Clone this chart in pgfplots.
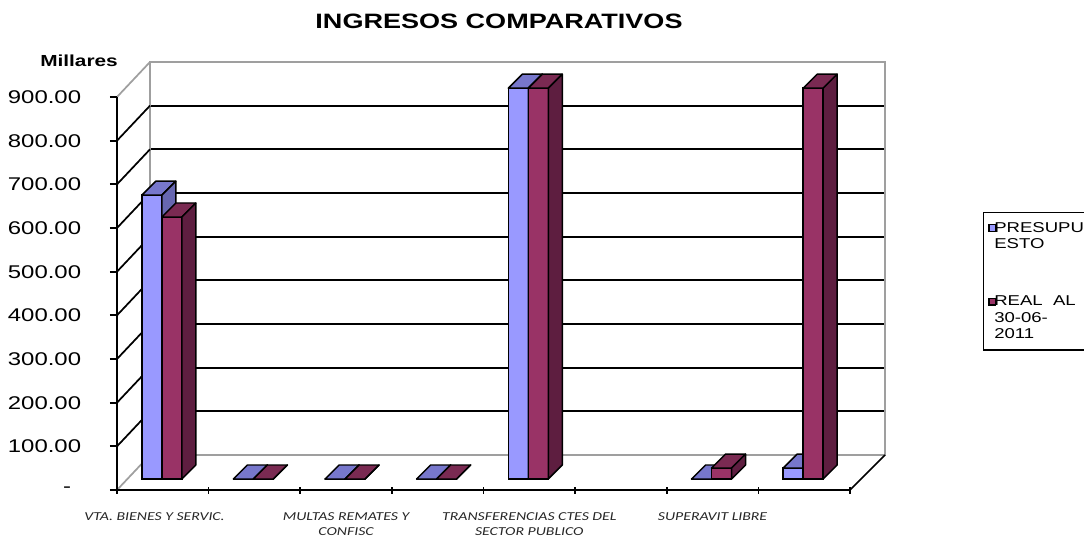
\documentclass[border=0pt]{standalone}
\usepackage{fontspec}
\setmainfont{Liberation Sans}
\newfontfamily\carlito{Carlito}
\usepackage{graphicx}
\usepackage{pgfplots}
\pgfplotsset{compat=1.18}
\usepackage{pgfplotstable}
\definecolor{bfront}{HTML}{9999FF}
\definecolor{btop}{HTML}{7777CC}
\definecolor{bside}{HTML}{6767B0}
\definecolor{rfront}{HTML}{993366}
\definecolor{rtop}{HTML}{7A2A52}
\definecolor{rside}{HTML}{5E1E40}
\newcommand{\wide}[1]{\scalebox{1.3}[1]{#1}}
\newcommand{\legtxt}[1]{\hspace*{-3.3pt}\wide{#1}}
\pgfdeclareplotmark{empty}{}
% #1 front, #2 top, #3 side colour, #4 bar shift
\newcommand{\threeD}[4]{%
  \pgfmathsetmacro{\hh}{\pgfplotspointmetatransformed/1000*294.75}%
  \pgfsetlinewidth{1.1pt}\pgfsetroundjoin\pgfsetstrokecolor{black}%
  \pgfsetfillcolor{#1}%
  \pgfpathmoveto{\pgfpoint{#4-7.5pt}{0pt}}%
  \pgfpathlineto{\pgfpoint{#4+7.5pt}{0pt}}%
  \pgfpathlineto{\pgfpoint{#4+7.5pt}{-\hh pt}}%
  \pgfpathlineto{\pgfpoint{#4-7.5pt}{-\hh pt}}%
  \pgfpathclose\pgfusepath{fill,stroke}%
  \pgfsetfillcolor{#2}%
  \pgfpathmoveto{\pgfpoint{#4-7.5pt}{0pt}}%
  \pgfpathlineto{\pgfpoint{#4+7.5pt}{0pt}}%
  \pgfpathlineto{\pgfpoint{#4+18pt}{10.5pt}}%
  \pgfpathlineto{\pgfpoint{#4+3pt}{10.5pt}}%
  \pgfpathclose\pgfusepath{fill,stroke}%
  \pgfsetfillcolor{#3}%
  \pgfpathmoveto{\pgfpoint{#4+7.5pt}{0pt}}%
  \pgfpathlineto{\pgfpoint{#4+18pt}{10.5pt}}%
  \pgfpathlineto{\pgfpoint{#4+18pt}{10.5pt-\hh pt}}%
  \pgfpathlineto{\pgfpoint{#4+7.5pt}{-\hh pt}}%
  \pgfpathclose\pgfusepath{fill,stroke}%
}
\pgfplotstableread{
x pres real
1 650 600
2 0 0
3 0 0
4 0 0
5 895 895
7 0 25
8 25 895
}\ingresos
\begin{document}
\begin{tikzpicture}
% back wall
\begin{axis}[at={(112.5pt,60.75pt)}, anchor=south west, scale only axis,
  width=551.25pt, height=294.75pt,
  xmin=0, xmax=1, ymin=0, ymax=900,
  xtick=\empty, ytick={100,200,...,800}, yticklabels={},
  major tick length=0pt,
  ymajorgrids, grid style={black, line width=1.4pt},
  axis line style={gray!75, line width=1.3pt}]
\addplot[draw=none] coordinates {(0,0) (1,0)};
\end{axis}
% left wall and floor edges
\begin{scope}[x=0.75pt,y=0.75pt]
\foreach \k in {1,...,8}
  \draw[black, line width=1.3pt] (117,{46+43.667*\k}) -- ++(33,35);
\draw[gray!75, line width=1.3pt] (117,46) -- ++(33,35);
\draw[gray!75, line width=1.3pt] (117,439) -- ++(33,35);
\draw[black, line width=1.3pt] (850,46) -- ++(35,35);
\end{scope}
% front axis with labels
\begin{axis}[at={(87.75pt,34.5pt)}, anchor=south west, scale only axis,
  width=549.75pt, height=294.75pt,
  xmin=0.5, xmax=8.5, ymin=0, ymax=900,
  axis x line*=bottom, axis y line*=left,
  axis line style={line width=1.3pt, black, -},
  xtick={0.5,1.5,...,8.5}, xticklabels={}, xtick align=center,
  ytick={0,100,...,900}, ytick align=outside,
  major tick length=5.25pt,
  major tick style={line width=1.3pt, black},
  yticklabels={\wide{-}\hspace*{7.5pt},\wide{100.00},\wide{200.00},\wide{300.00},\wide{400.00},\wide{500.00},\wide{600.00},\wide{700.00},\wide{800.00},\wide{900.00}},
  yticklabel style={font=\fontsize{13.8}{16}\selectfont, anchor=east, inner sep=0pt, xshift=-21.5pt},
  extra x ticks={0.91,3,5,7},
  extra x tick labels={\wide{VTA. BIENES Y SERVIC.},{\wide{MULTAS REMATES Y}\\\wide{CONFISC}},{\wide{TRANSFERENCIAS CTES DEL}\\\wide{SECTOR PUBLICO}},\wide{SUPERAVIT LIBRE}},
  extra x tick style={major tick length=0pt, xticklabel style={align=center, font=\carlito\itshape\fontsize{9.1}{11.25}\selectfont, text=black!85, anchor=north, inner sep=0pt, yshift=-16.5pt}}]
\addplot[draw=none] coordinates {(1,0) (2,0)};
\end{axis}
% data axis with 3D bars
\begin{axis}[at={(87pt,42.75pt)}, anchor=south west, scale only axis,
  width=549.75pt, height=294.75pt,
  xmin=0.5, xmax=8.5, ymin=0, ymax=900, hide axis, clip=false,
  legend style={at={(axis description cs:1.1828,0.6794)}, anchor=north west,
    draw=black, line width=1.1pt, font=\fontsize{10.7}{12.4}\selectfont,
    cells={align=left, inner xsep=0pt}, row sep=30pt, inner xsep=3.5pt, inner ysep=5pt},
  legend cell align=left]
\addplot[ybar, bar width=15pt, bar shift=-7.5pt, fill=bfront, draw=black, line width=1.1pt,
  scatter, point meta=y, point meta min=0, point meta max=900, mark=empty,
  scatter/@pre marker code/.code={\threeD{bfront}{btop}{bside}{-7.5pt}},
  scatter/@post marker code/.code={},
  legend image code/.code={\draw[fill=bfront,draw=black,line width=0.9pt] (0pt,3.8pt) rectangle (4.8pt,8.6pt);}]
  table[x=x, y=pres] {\ingresos};
\addlegendentry{\legtxt{PRESUPU}\\\legtxt{ESTO}}
\addplot[ybar, bar width=15pt, bar shift=7.5pt, fill=rfront, draw=black, line width=1.1pt,
  scatter, point meta=y, point meta min=0, point meta max=900, mark=empty,
  scatter/@pre marker code/.code={\threeD{rfront}{rtop}{rside}{7.5pt}},
  scatter/@post marker code/.code={},
  legend image code/.code={\draw[fill=rfront,draw=black,line width=0.9pt] (0pt,10pt) rectangle (4.8pt,14.8pt);}]
  table[x=x, y=real] {\ingresos};
\addlegendentry{\legtxt{REAL\ \ AL}\\\legtxt{30-06-}\\\legtxt{2011}}
\end{axis}
\begin{scope}[x=0.75pt,y=0.75pt]
\node[inner sep=0pt] at (499,515) {\fontsize{15.6}{18}\selectfont\bfseries\wide{INGRESOS COMPARATIVOS}};
\node[inner sep=0pt] at (79,475) {\fontsize{12}{14}\selectfont\bfseries\wide{Millares}};
\pgfresetboundingbox
\useasboundingbox (0,0) rectangle (1084,536);
\end{scope}
\end{tikzpicture}
\end{document}
